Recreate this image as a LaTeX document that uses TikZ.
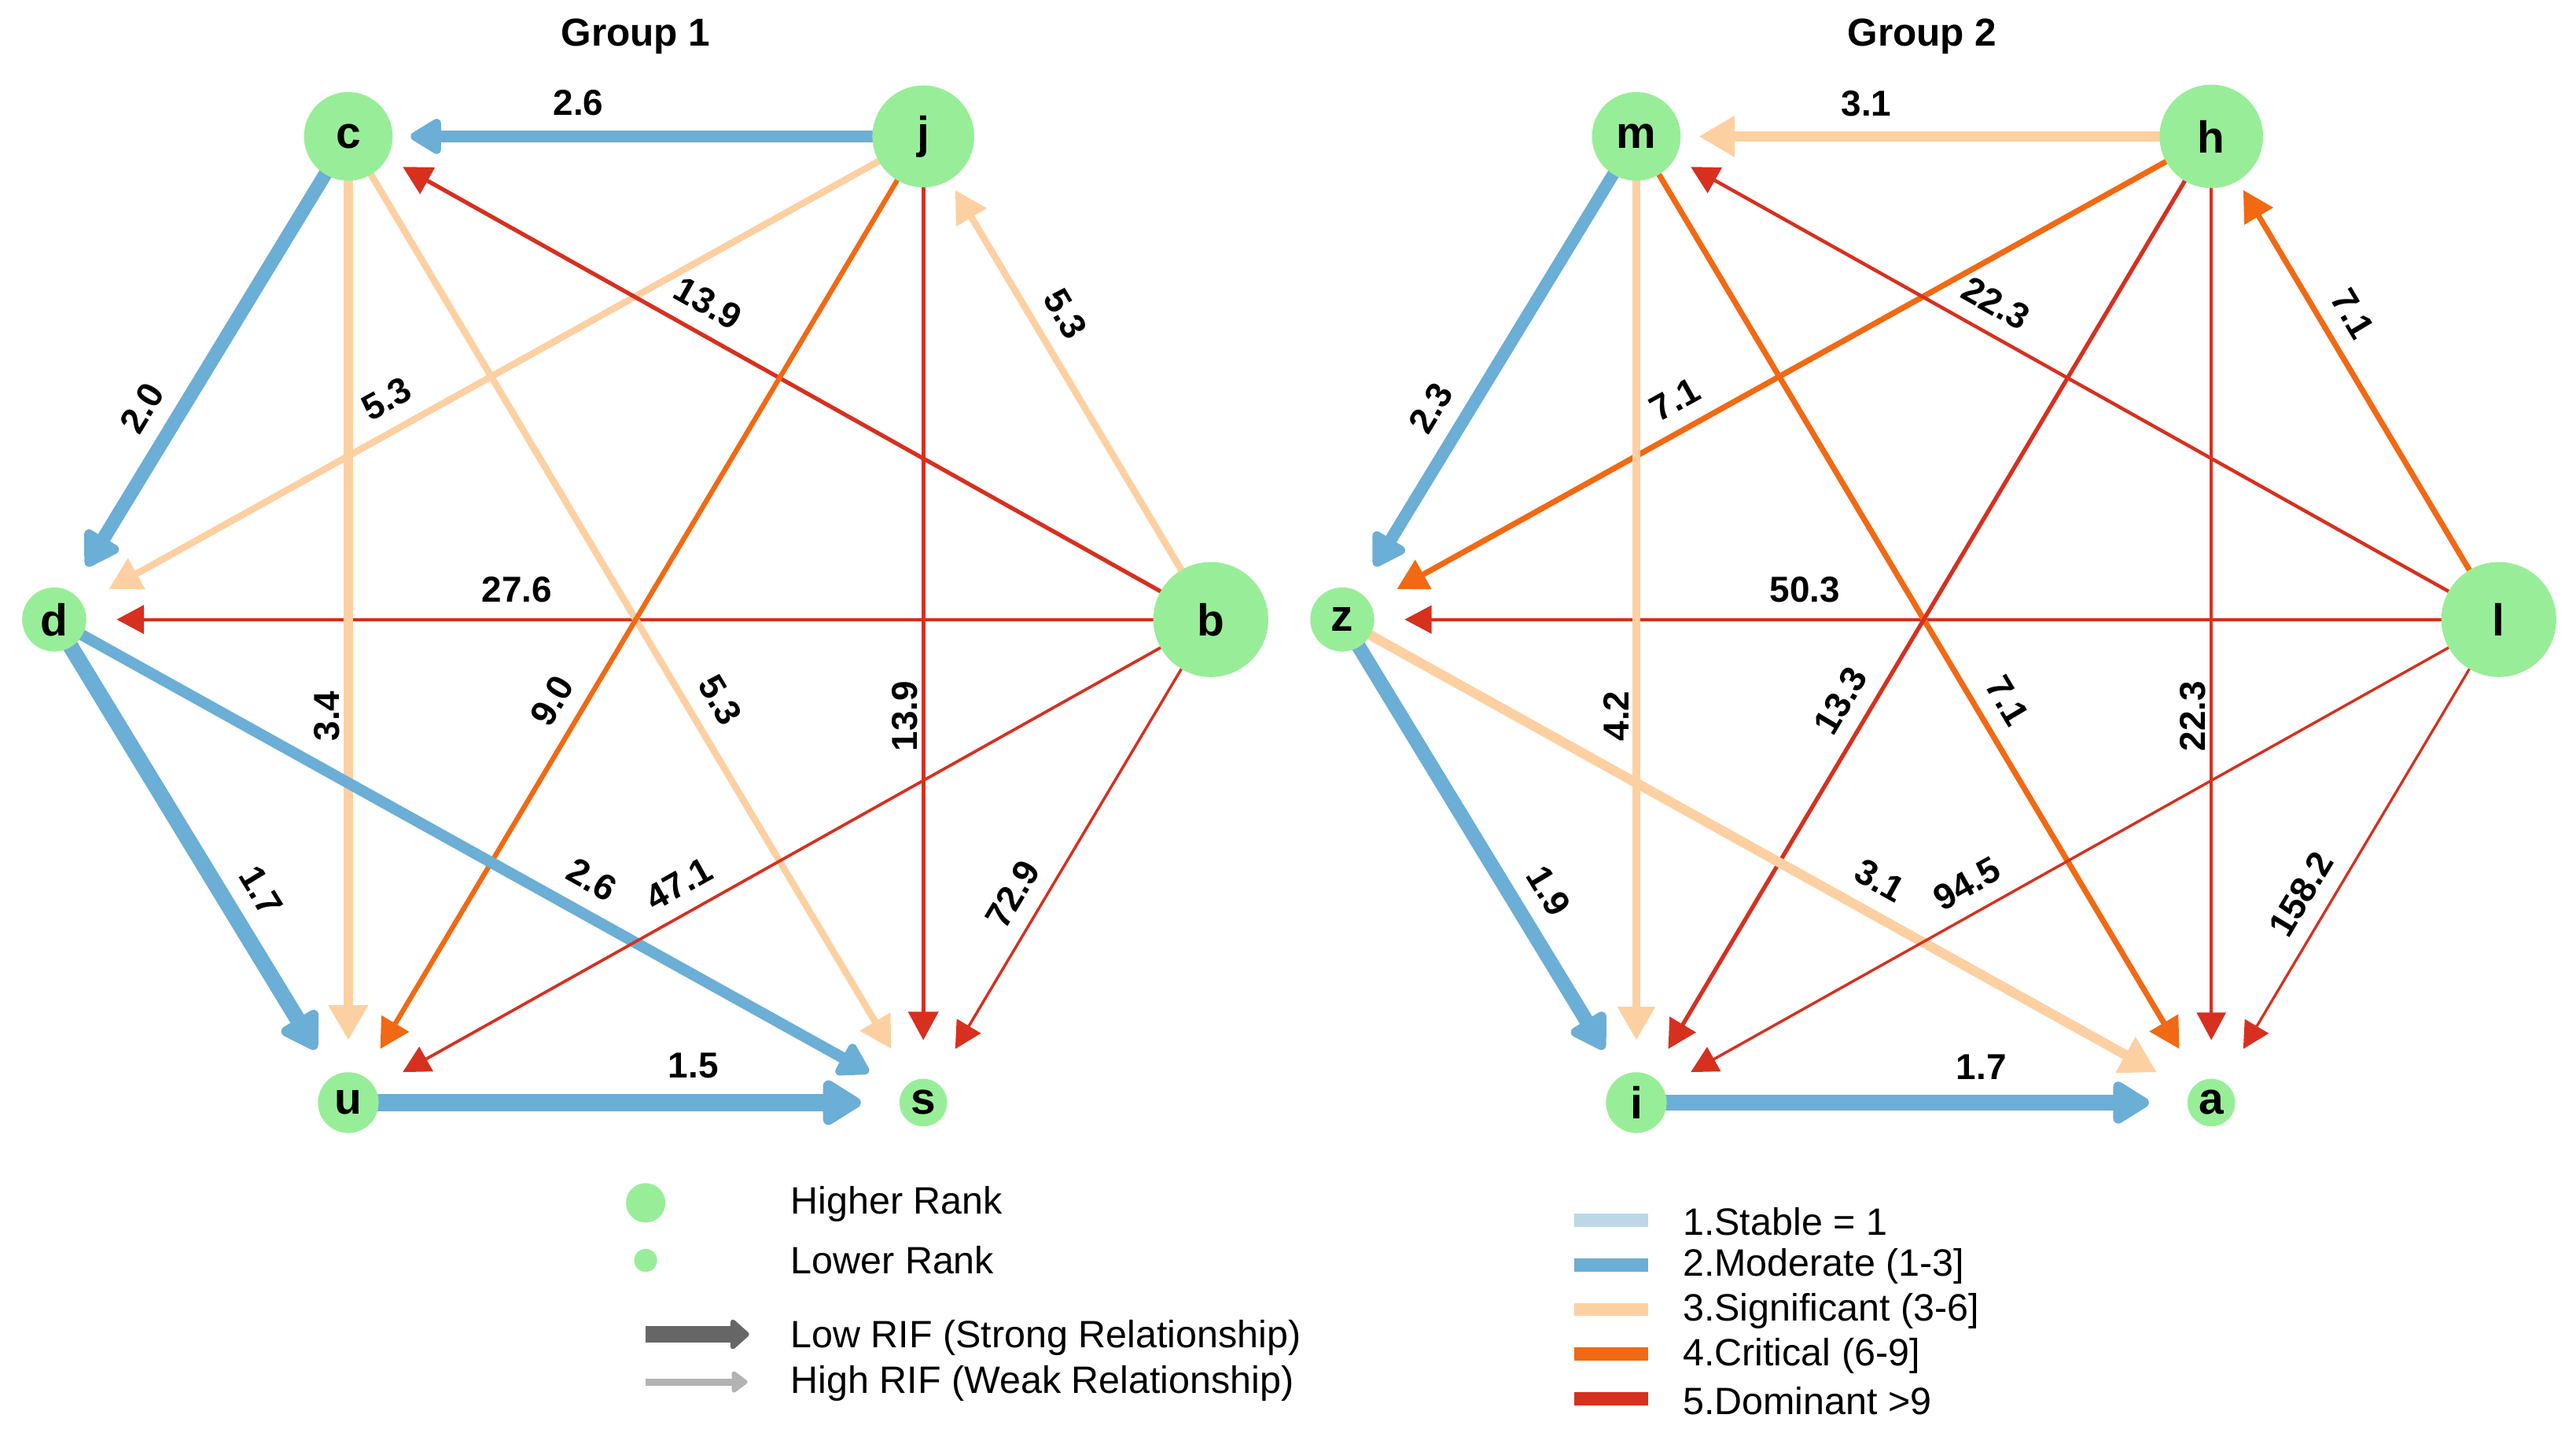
\documentclass[tikz,border=0pt]{standalone}
\usepackage{fontspec}
\setmainfont{Liberation Sans}
\usetikzlibrary{arrows.meta,backgrounds}
\definecolor{rankgreen}{HTML}{98EE98}
\definecolor{stableblue}{HTML}{BDD7E7}
\definecolor{moderateblue}{HTML}{6BAED6}
\definecolor{significantpeach}{HTML}{FDD0A2}
\definecolor{criticalorange}{HTML}{F16913}
\definecolor{dominantred}{HTML}{D7301F}
\definecolor{lowgray}{HTML}{666666}
\definecolor{highgray}{HTML}{B3B3B3}
\tikzset{rank/.style={circle,fill=rankgreen,inner sep=0pt,font=\bfseries\fontsize{15.5}{15.5}\selectfont},
  lab/.style={pos=0.6,sloped,above=2pt,font=\bfseries\fontsize{12.5}{12.5}\selectfont},
  vlab/.style={lab,rotate=180},
  rif/.style={-{Triangle[length=8pt 1.3,width=8pt 1.6]},shorten >=0.76cm},
  moderate/.style={rif,draw=moderateblue,-{Triangle[round,length=7pt 1.3,width=7pt 1.7]}},
  significant/.style={rif,draw=significantpeach},
  critical/.style={rif,draw=criticalorange},
  dominant/.style={rif,draw=dominantred},
  legtxt/.style={anchor=west,inner sep=0pt,font=\fontsize{13.2}{13.2}\selectfont}}

\begin{document}
\begin{tikzpicture}[x=0.02cm,y=-0.02cm]
\useasboundingbox (0,0) rectangle (1568,872);
\node[font=\bfseries\fontsize{13.5}{13.5}\selectfont] (g1) at (387,22) {Group 1};
\node[font=\bfseries\fontsize{13.5}{13.5}\selectfont] (g2) at (1170,22) {Group 2};
\node[rank,minimum size=1.08cm] (c) at (212,83) {c};
\node[rank,minimum size=1.24cm] (j) at (562,83) {j};
\node[rank,minimum size=0.78cm] (d) at (33,377) {d};
\node[rank,minimum size=1.4cm] (b) at (737,377) {b};
\node[rank,minimum size=0.74cm] (u) at (212,671) {u};
\node[rank,minimum size=0.58cm] (s) at (562,671) {s};
\node[rank,minimum size=1.08cm] (m) at (996,83) {m};
\node[rank,minimum size=1.26cm] (h) at (1346,83) {h};
\node[rank,minimum size=0.78cm] (z) at (817,377) {z};
\node[rank,minimum size=1.4cm] (l) at (1521,377) {l};
\node[rank,minimum size=0.74cm] (i) at (996,671) {i};
\node[rank,minimum size=0.58cm] (a) at (1346,671) {a};
\begin{scope}[on background layer]
\foreach \s/\t/\v/\c/\o in {j/c/2.6/moderate/lab, c/d/2.0/moderate/lab, j/d/5.3/significant/lab,
  b/c/13.9/dominant/lab, b/j/5.3/significant/lab, b/d/27.6/dominant/lab, c/u/3.4/significant/vlab,
  c/s/5.3/significant/lab, j/u/9.0/critical/lab, j/s/13.9/dominant/vlab, d/u/1.7/moderate/lab,
  d/s/2.6/moderate/lab, b/u/47.1/dominant/lab, b/s/72.9/dominant/lab, u/s/1.5/moderate/lab,
  h/m/3.1/significant/lab, m/z/2.3/moderate/lab, h/z/7.1/critical/lab, l/m/22.3/dominant/lab,
  l/h/7.1/critical/lab, l/z/50.3/dominant/lab, m/i/4.2/significant/vlab, m/a/7.1/critical/lab,
  h/i/13.3/dominant/lab, h/a/22.3/dominant/vlab, z/i/1.9/moderate/lab, z/a/3.1/significant/lab,
  l/i/94.5/dominant/lab, l/a/158.2/dominant/lab, i/a/1.7/moderate/lab}
{\pgfmathsetmacro\lw{0.85+7.9/\v}
 \draw[\c,line width=\lw pt] (\s.center) -- (\t.center) node[\o]{\v};}
\end{scope}
\node[rank,minimum size=0.48cm] (hir) at (393,732) {};
\node[legtxt] (hirtxt) at (481,733) {Higher Rank};
\node[rank,minimum size=0.28cm] (lor) at (393,767) {};
\node[legtxt] (lortxt) at (481,767) {Lower Rank};
\coordinate (lowa) at (393,812); \coordinate (lowb) at (456,812);
\draw[line width=5.5pt,lowgray,-{Triangle[round,length=7pt,width=12pt]}] (lowa) -- (lowb);
\node[legtxt] (lowtxt) at (481,814) {Low RIF (Strong Relationship)};
\coordinate (higha) at (393,841); \coordinate (highb) at (455,841);
\draw[line width=2.4pt,highgray,-{Triangle[round,length=6pt,width=8.5pt]}] (higha) -- (highb);
\node[legtxt] (hightxt) at (481,842) {High RIF (Weak Relationship)};
\foreach \col/\txt [count=\k] in {stableblue/1.Stable = 1, moderateblue/2.Moderate (1-3],
  significantpeach/3.Significant (3-6], criticalorange/4.Critical (6-9], dominantred/5.Dominant >9}
{\fill[\col] (958,711.3+27.2*\k) rectangle (1003,719.3+27.2*\k);
 \node[legtxt] (cat\k) at (1024,716.3+27.2*\k) {\txt};}
\end{tikzpicture}
\end{document}
